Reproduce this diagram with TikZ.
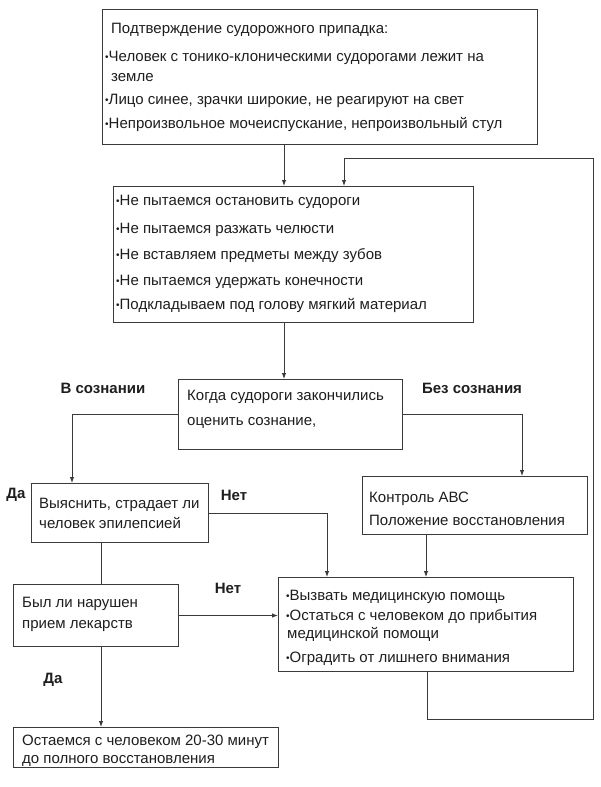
\documentclass[tikz,border=0pt]{standalone}
\usepackage{fontspec}
\setmainfont{Liberation Sans}
\usetikzlibrary{arrows.meta,calc}
\definecolor{lc}{HTML}{3A3A3A}
\definecolor{tc}{HTML}{1E1E1E}
\newcommand\mybul{{\fontsize{10}{10}\selectfont\raisebox{0.5pt}{•}}}
\begin{document}
\begin{tikzpicture}[x=1pt,y=-1pt,
  box/.style={draw=lc, line width=1pt, anchor=north west, inner sep=0, fill=white},
  txt/.style={anchor=base west, inner sep=0, font=\fontsize{15}{18}\selectfont, text=tc},
  lbl/.style={anchor=center, inner sep=0, font=\fontsize{15}{18}\selectfont\bfseries, text=tc},
  con/.style={draw=lc, line width=1pt},
  arr/.style={con, -{Latex[length=6pt,width=4.5pt]}}]
\useasboundingbox (0,0) rectangle (600,787);
% helper x positions
\coordinate (xa) at (284,0);
\coordinate (xb) at (344,0);
\coordinate (xl) at (72,0);
\coordinate (xr) at (522,0);
\coordinate (xn) at (327,0);
\coordinate (xk) at (426,0);
\coordinate (xd) at (101,0);
% boxes
\node[box, minimum width=435, minimum height=135] (b1) at (102,9) {};
\node[box, minimum width=360, minimum height=136] (b2) at (113,186) {};
\node[box, minimum width=224, minimum height=70] (b3) at (178,379) {};
\node[box, minimum width=177, minimum height=59] (b4) at (31,483) {};
\node[box, minimum width=225, minimum height=58] (b5) at (362,476) {};
\node[box, minimum width=165, minimum height=62] (b6) at (13,584) {};
\node[box, minimum width=295, minimum height=94] (b7) at (278,577) {};
\node[box, minimum width=265, minimum height=40] (b8) at (13,727) {};
% texts
\node[txt] (t11) at (111,33) {Подтверждение судорожного припадка:};
\node[txt] (t12) at (105,61) {\mybul Человек с тонико-клоническими судорогами лежит на};
\node[txt] (t13) at (111,81) {земле};
\node[txt] (t14) at (105,104) {\mybul Лицо синее, зрачки широкие, не реагируют на свет};
\node[txt] (t15) at (105,128) {\mybul Непроизвольное мочеиспускание, непроизвольный стул};
\node[txt] (t21) at (116,205) {\mybul Не пытаемся остановить судороги};
\node[txt] (t22) at (116,233) {\mybul Не пытаемся разжать челюсти};
\node[txt] (t23) at (116,259) {\mybul Не вставляем предметы между зубов};
\node[txt] (t24) at (116,285) {\mybul Не пытаемся удержать конечности};
\node[txt] (t25) at (116,309) {\mybul Подкладываем под голову мягкий материал};
\node[txt] (t31) at (187,400) {Когда судороги закончились};
\node[txt] (t32) at (187,425) {оценить сознание,};
\node[txt] (t41) at (39,508) {Выяснить, страдает ли};
\node[txt] (t42) at (39,528) {человек эпилепсией};
\node[txt] (t51) at (369,502) {Контроль АВС};
\node[txt] (t52) at (369,525) {Положение восстановления};
\node[txt] (t61) at (22,607) {Был ли нарушен};
\node[txt] (t62) at (22,628) {прием лекарств};
\node[txt] (t71) at (286,600) {\mybul Вызвать медицинскую помощь};
\node[txt] (t72) at (286,620) {\mybul Остаться с человеком до прибытия};
\node[txt] (t73) at (287,638) {медицинской помощи};
\node[txt] (t74) at (286,662) {\mybul Оградить от лишнего внимания};
\node[txt] (t81) at (22,745) {Остаемся с человеком 20-30 минут};
\node[txt] (t82) at (22,763) {до полного восстановления};
% labels
\node[lbl] (l1) at (103,388) {В сознании};
\node[lbl] (l2) at (472,388) {Без сознания};
\node[lbl] (l3) at (16,495) {Да};
\node[lbl] (l4) at (234,495) {Нет};
\node[lbl] (l5) at (228,588) {Нет};
\node[lbl] (l6) at (53,680) {Да};
% connectors
\draw[arr] (b1.south -| xa) -- (b2.north -| xa);
\draw[arr] (b2.south -| xa) -- (b3.north -| xa);
\draw[arr] (b3.west) -| (b4.north -| xl);
\draw[arr] (b3.east) -| (b5.north -| xr);
\draw[arr] (b4.east) -| (b7.north -| xn);
\draw[arr] (b5.south -| xk) -- (b7.north -| xk);
\draw[con] (b4.south -| xd) -- (b6.north -| xd);
\draw[arr] (b6.east) -- (b7.west |- b6.east);
\draw[arr] (b6.south -| xd) -- (b8.north -| xd);
\coordinate (c1) at (427,719);
\coordinate (c2) at (593,719);
\coordinate (c3) at (593,158);
\coordinate (c4) at (344,158);
\draw[arr] (b7.south -| c1) -- (c1) -- (c2) -- (c3) -- (c4) -- (b2.north -| xb);
\end{tikzpicture}
\end{document}
